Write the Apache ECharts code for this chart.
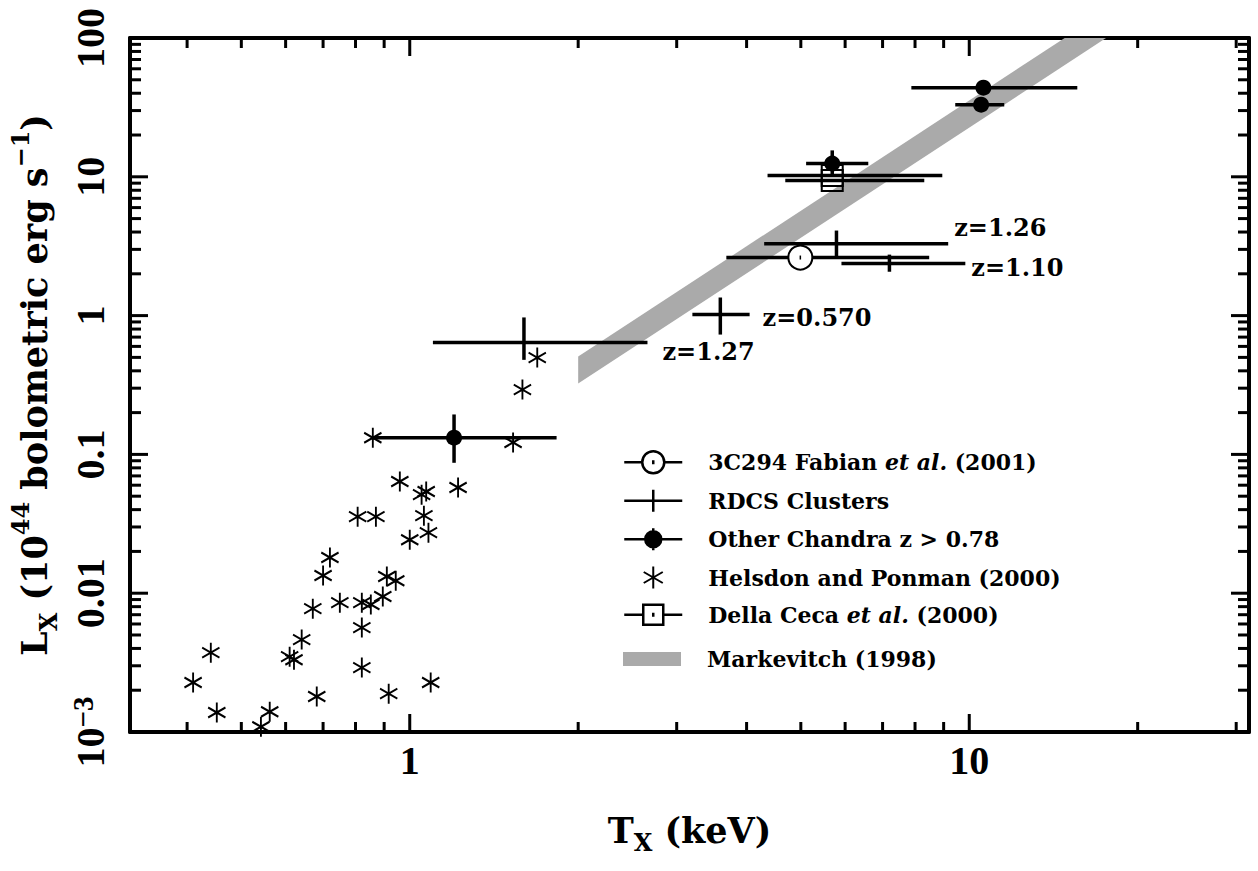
<!DOCTYPE html>
<html><head><meta charset="utf-8">
<script src="https://cdn.jsdelivr.net/npm/echarts@6/dist/echarts.min.js"></script>
<style>html,body{margin:0;padding:0;background:#fff}#c{width:1258px;height:871px}</style>
</head><body><div id="c"></div>
<script>
// ---------------- data ----------------
const xRange = [0.3162278, 31.62278];
const yRange = [0.001, 100];
const xTickLabels = [[1, '1'], [10, '10']];
const yTickLabels = [[0.001, '10{sup|\u22123}'], [0.01, '0.01'], [0.1, '0.1'], [1, '1'], [10, '10'], [100, '100']];
const xMajorTicks = [1, 10];
const xMinorTicks = [0.4, 0.5, 0.6, 0.7, 0.8, 0.9, 2, 3, 4, 5, 6, 7, 8, 9, 20, 30];
const yMajorTicks = [0.01, 0.1, 1, 10];
const yMinorTicks = [0.002, 0.003, 0.004, 0.005, 0.006, 0.007, 0.008, 0.009,
  0.02, 0.03, 0.04, 0.05, 0.06, 0.07, 0.08, 0.09,
  0.2, 0.3, 0.4, 0.5, 0.6, 0.7, 0.8, 0.9,
  2, 3, 4, 5, 6, 7, 8, 9,
  20, 30, 40, 50, 60, 70, 80, 90];

// Helsdon and Ponman (2000)
const hpT = [1.69, 1.59, 0.859, 1.53, 0.96, 1.05, 1.07, 1.22, 0.807, 0.87, 1.06, 1.0, 1.08, 0.72, 0.70,
  0.671, 0.75, 0.821, 0.852, 0.895, 0.91, 0.944, 0.821, 0.641, 0.61, 0.621, 0.441, 0.41, 0.821, 0.682,
  1.09, 0.917, 0.452, 0.562, 0.542];
const hpL = [0.498, 0.293, 0.132, 0.122, 0.0637, 0.0513, 0.054, 0.0577, 0.0356, 0.0356, 0.0362, 0.0243, 0.0273, 0.0181, 0.0134,
  0.00774, 0.00855, 0.00855, 0.00828, 0.00946, 0.0132, 0.0123, 0.00565, 0.00463, 0.00349, 0.00332, 0.00373, 0.00227, 0.00291, 0.0018,
  0.00227, 0.00189, 0.00138, 0.0014, 0.00109];

// RDCS clusters
const rdcsT = [1.60, 3.59, 5.79, 7.20];
const rdcsL = [0.64, 1.02, 3.30, 2.37];
const rdcsTlo = [1.10, 3.20, 4.30, 5.91];
const rdcsThi = [2.66, 4.05, 9.17, 9.84];
const rdcsLlo = [0.48, 0.73, 2.65, 2.07];
const rdcsLhi = [0.97, 1.35, 4.10, 2.75];
const rdcsZ = ['z=1.27', 'z=0.570', 'z=1.26', 'z=1.10'];

// 3C294 Fabian et al. (2001)
const c3T = [4.99];
const c3L = [2.62];
const c3Tlo = [3.68];
const c3Thi = [8.48];

// Other Chandra z > 0.78
const chT = [1.20, 5.69, 10.6, 10.5];
const chL = [0.132, 12.45, 43.9, 33.1];
const chTlo = [0.86, 5.11, 7.88, 9.44];
const chThi = [1.83, 6.60, 15.6, 11.55];
const chLlo = [0.087, 10.2, null, null];
const chLhi = [0.194, 15.5, null, null];

// Della Ceca et al. (2000)
const dcT = [5.69, 5.69];
const dcL = [10.2, 9.39];
const dcTlo = [4.36, 4.69];
const dcThi = [8.95, 8.31];

// Markevitch (1998) band
const bandT = [2.0, 20];
const bandLo = [0.324, 141];
const bandHi = [0.507, 221];

// ---------------- styling ----------------
const FONT = 'DejaVu Serif';
const labelOffsets = [[15, 9], [13, 3], [6, -16], [6, 4]];
const BLACK = '#000';

function lineEl(p, q, w) {
  return { type: 'line', shape: { x1: p[0], y1: p[1], x2: q[0], y2: q[1] }, style: { stroke: BLACK, lineWidth: w } };
}

function errSeries(name, T, L, Tlo, Thi, Llo, Lhi, marker, labels) {
  return {
    type: 'custom', name: name, coordinateSystem: 'cartesian2d', z: 4, silent: true,
    data: T.map((t, i) => [t, L[i]]),
    renderItem: function (params, api) {
      const i = params.dataIndex;
      const c = api.coord([T[i], L[i]]);
      const ch = [];
      const a = api.coord([Tlo[i], L[i]]), b = api.coord([Thi[i], L[i]]);
      ch.push(lineEl(a, b, 3.5));
      if (Llo && Llo[i] != null) {
        ch.push(lineEl(api.coord([T[i], Llo[i]]), api.coord([T[i], Lhi[i]]), 3.5));
      }
      if (marker === 'openCircle') {
        ch.push({ type: 'circle', shape: { cx: c[0], cy: c[1], r: 12 }, style: { fill: '#fff', stroke: BLACK, lineWidth: 2 } });
        ch.push(lineEl([c[0], c[1] - 2], [c[0], c[1] + 2], 1.5));
      } else if (marker === 'filledCircle') {
        ch.push({ type: 'circle', shape: { cx: c[0], cy: c[1], r: 8 }, style: { fill: BLACK } });
      } else if (marker === 'openSquare') {
        ch.push({ type: 'rect', shape: { x: c[0] - 10.5, y: c[1] - 10.5, width: 21, height: 21 }, style: { fill: 'none', stroke: BLACK, lineWidth: 2 } });
      }
      if (labels) {
        const off = labelOffsets[i];
        ch.push({ type: 'text', x: b[0] + off[0], y: b[1] + off[1],
          style: { text: labels[i], fill: BLACK, fontSize: 24, fontFamily: FONT, fontWeight: 'bold', align: 'left', verticalAlign: 'middle' } });
      }
      return { type: 'group', children: ch };
    }
  };
}

function tickSeries(vals, isX, len) {
  return {
    type: 'custom', coordinateSystem: 'cartesian2d', z: 10, silent: true, clip: false,
    data: vals.map(v => isX ? [v, yRange[0]] : [xRange[0], v]),
    renderItem: function (params, api) {
      const v = vals[params.dataIndex];
      if (isX) {
        const p = api.coord([v, yRange[0]]), q = api.coord([v, yRange[1]]);
        return { type: 'group', children: [lineEl(p, [p[0], p[1] - len], 3), lineEl(q, [q[0], q[1] + len], 3)] };
      } else {
        const p = api.coord([xRange[0], v]), q = api.coord([xRange[1], v]);
        return { type: 'group', children: [lineEl(p, [p[0] + len, p[1]], 3), lineEl(q, [q[0] - len, q[1]], 3)] };
      }
    }
  };
}

function findLabel(list, v) {
  for (const [val, txt] of list) {
    if (Math.abs(Math.log10(v) - Math.log10(val)) < 1e-6) return txt;
  }
  return '';
}

const names = ['3C294 Fabian et al. (2001)', 'RDCS Clusters', 'Other Chandra z > 0.78',
  'Helsdon and Ponman (2000)', 'Della Ceca et al. (2000)', 'Markevitch (1998)'];
const legendRich = {
  '3C294 Fabian et al. (2001)': '3C294 Fabian {i|et al.} (2001)',
  'Della Ceca et al. (2000)': 'Della Ceca {i|et al.} (2000)'
};
const legendText = {
  fontFamily: FONT, fontWeight: 'bold', fontSize: 22, lineHeight: 22, color: BLACK, padding: [0, 0, 0, 21],
  rich: { i: { fontFamily: FONT, fontWeight: 'bold', fontStyle: 'italic', fontSize: 22, lineHeight: 22, color: BLACK } }
};

const chart = echarts.init(document.getElementById('c'), null, { renderer: 'svg' });
const axisLineStyle = { show: true, lineStyle: { color: BLACK, width: 4 } };
chart.setOption({
  animation: false,
  backgroundColor: '#fff',
  grid: { left: 130, right: 9, top: 38, bottom: 139, containLabel: false },
  xAxis: [{
    type: 'log', logBase: 10, min: xRange[0], max: xRange[1], position: 'bottom',
    axisLine: axisLineStyle, axisTick: { show: false }, splitLine: { show: false }, minorTick: { show: false },
    axisLabel: { showMinLabel: true, showMaxLabel: true, margin: 8, color: BLACK, fontFamily: 'Liberation Serif', fontWeight: 'bold', fontSize: 40,
      formatter: v => findLabel(xTickLabels, v) },
    name: '{b|T}{sub|X}{b| (keV)}', nameLocation: 'middle', nameGap: 74,
    nameTextStyle: { rich: {
      b: { fontFamily: FONT, fontWeight: 'bold', fontSize: 35, color: BLACK, lineHeight: 48 },
      sub: { fontFamily: FONT, fontWeight: 'bold', fontSize: 24, color: BLACK, lineHeight: 24, verticalAlign: 'bottom' } } }
  }, {
    type: 'log', logBase: 10, min: xRange[0], max: xRange[1], position: 'top',
    axisLine: axisLineStyle, axisTick: { show: false }, splitLine: { show: false }, axisLabel: { show: false }
  }],
  yAxis: [{
    type: 'log', logBase: 10, min: yRange[0], max: yRange[1], position: 'left',
    axisLine: axisLineStyle, axisTick: { show: false }, splitLine: { show: false }, minorTick: { show: false },
    axisLabel: { showMinLabel: true, showMaxLabel: true, rotate: 90, margin: 18, color: BLACK, fontFamily: 'Liberation Serif', fontWeight: 'bold', fontSize: 40, lineHeight: 44,
      formatter: v => findLabel(yTickLabels, v),
      rich: { sup: { fontFamily: 'Liberation Serif', fontWeight: 'bold', fontSize: 29, color: BLACK, lineHeight: 30, verticalAlign: 'top' } } },
    name: '{b|L}{sub|X}{b| (10}{sup|44}{b| bolometric erg s}{sup|\u22121}{b|)}', nameLocation: 'middle', nameGap: 62, nameRotate: 90,
    nameTextStyle: { rich: {
      b: { fontFamily: FONT, fontWeight: 'bold', fontSize: 35, color: BLACK, lineHeight: 52 },
      sub: { fontFamily: FONT, fontWeight: 'bold', fontSize: 24, color: BLACK, lineHeight: 26, verticalAlign: 'bottom' },
      sup: { fontFamily: FONT, fontWeight: 'bold', fontSize: 24, color: BLACK, lineHeight: 26, verticalAlign: 'top' } } }
  }, {
    type: 'log', logBase: 10, min: yRange[0], max: yRange[1], position: 'right',
    axisLine: axisLineStyle, axisTick: { show: false }, splitLine: { show: false }, axisLabel: { show: false }
  }],
  legend: [{
    orient: 'vertical', left: 623, top: 450, padding: 0, itemWidth: 58, itemHeight: 22, itemGap: 14, selectedMode: false,
    textStyle: legendText,
    formatter: n => legendRich[n] || n,
    data: [
      { name: names[0], icon: 'path://M0,11L18,11M40,11L58,11M40,11A11,11 0 1 1 18,11A11,11 0 1 1 40,11ZM29,9L29,13',
        itemStyle: { color: 'rgba(0,0,0,0)', borderColor: BLACK, borderWidth: 2.5 } },
      { name: names[1], icon: 'path://M0,11L58,11M29,0L29,22', itemStyle: { color: BLACK, borderColor: BLACK, borderWidth: 2.5 } },
      { name: names[2], icon: 'path://M0,11L58,11M29,0L29,22M37,11A8,8 0 1 1 21,11A8,8 0 1 1 37,11Z', itemStyle: { color: BLACK, borderColor: BLACK, borderWidth: 2.5 } },
      { name: names[3], icon: 'path://M29,1L29,21M20.34,6L37.66,16M20.34,16L37.66,6', itemStyle: { color: 'rgba(0,0,0,0)', borderColor: BLACK, borderWidth: 2 } },
      { name: names[4], icon: 'path://M0,11L19,11M39,11L58,11M19,1L39,1L39,21L19,21ZM29,9L29,13', itemStyle: { color: 'rgba(0,0,0,0)', borderColor: BLACK, borderWidth: 2.5 } }
    ]
  }, {
    orient: 'vertical', left: 623, top: 648, padding: 0, itemWidth: 58, itemHeight: 22, selectedMode: false,
    textStyle: legendText,
    data: [
      { name: names[5], icon: 'path://M0,4L57,4L57,18L0,18Z', itemStyle: { color: '#aaaaaa', borderWidth: 0 } }
    ]
  }],
  series: [
    {
      type: 'custom', name: names[5], coordinateSystem: 'cartesian2d', z: 1, clip: true, silent: true,
      data: bandT.map((t, i) => [t, bandLo[i]]),
      renderItem: function (params, api) {
        if (params.dataIndex !== 0) return null;
        const pts = [];
        for (let i = 0; i < bandT.length; i++) pts.push(api.coord([bandT[i], bandHi[i]]));
        for (let i = bandT.length - 1; i >= 0; i--) pts.push(api.coord([bandT[i], bandLo[i]]));
        return { type: 'polygon', shape: { points: pts }, style: { fill: '#aaaaaa' } };
      }
    },
    {
      type: 'scatter', name: names[3], z: 3, silent: true,
      data: hpT.map((t, i) => [t, hpL[i]]),
      symbol: 'path://M10,0L10,20M1.34,5L18.66,15M1.34,15L18.66,5', symbolSize: [17.3, 20],
      itemStyle: { color: 'rgba(0,0,0,0)', borderColor: BLACK, borderWidth: 2, opacity: 1 }
    },
    errSeries(names[1], rdcsT, rdcsL, rdcsTlo, rdcsThi, rdcsLlo, rdcsLhi, 'plus', rdcsZ),
    errSeries(names[0], c3T, c3L, c3Tlo, c3Thi, null, null, 'openCircle', null),
    errSeries(names[4], dcT, dcL, dcTlo, dcThi, null, null, 'openSquare', null),
    errSeries(names[2], chT, chL, chTlo, chThi, chLlo, chLhi, 'filledCircle', null),
    tickSeries(xMajorTicks, true, 18),
    tickSeries(xMinorTicks, true, 10),
    tickSeries(yMajorTicks, false, 18),
    tickSeries(yMinorTicks, false, 11)
  ]
});
</script></body></html>
